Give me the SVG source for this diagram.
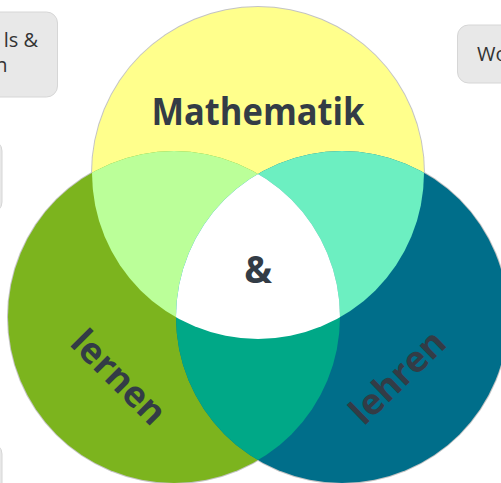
<svg xmlns="http://www.w3.org/2000/svg" width="501" height="483" viewBox="0 0 501 483">
<style>
.box{fill:#e8e8e8;stroke:#d6d6d6;stroke-width:1}
.bt{font-family:"Open Sans","Liberation Sans",sans-serif;font-size:20px;fill:#333}
.lbl{font-family:"Open Sans","Liberation Sans",sans-serif;font-weight:700;fill:#333c46}
</style>
<defs>
<clipPath id="cA"><circle cx="258" cy="173" r="166"/></clipPath>
<clipPath id="cB"><circle cx="174" cy="317" r="166"/></clipPath>
<clipPath id="cC"><circle cx="342" cy="317" r="166"/></clipPath>
</defs>
<rect width="501" height="483" fill="#ffffff"/>
<g id="box-topleft"><rect class="box" x="-20" y="12" width="77.5" height="85" rx="11"/><text class="bt" x="38" y="47" text-anchor="end">ls &amp;</text><text class="bt" x="7.5" y="72" text-anchor="end">n</text></g>
<g id="box-left"><rect class="box" x="-40" y="140" width="42" height="73" rx="11"/></g>
<g id="box-bottomleft"><rect class="box" x="-40" y="443" width="42" height="60" rx="11"/></g>
<g id="box-right"><rect class="box" x="457.5" y="25" width="80" height="58" rx="11"/><text class="bt" x="477" y="61">Wo</text></g>
<g id="venn-outline" fill="#c4c4c4">
<circle cx="258" cy="173" r="167"/><circle cx="174" cy="317" r="167"/><circle cx="342" cy="317" r="167"/>
</g>
<g id="mathematik"><circle cx="258" cy="173" r="166" fill="#ffff8c"/></g>
<g id="lernen"><circle cx="174" cy="317" r="166" fill="#7cb41e"/></g>
<g id="lehren"><circle cx="342" cy="317" r="166" fill="#006e8a"/></g>
<g id="overlap-math-lernen" clip-path="url(#cB)"><circle cx="258" cy="173" r="166" fill="#bbff99"/></g>
<g id="overlap-math-lehren" clip-path="url(#cC)"><circle cx="258" cy="173" r="166" fill="#6cefc1"/></g>
<g id="overlap-lernen-lehren" clip-path="url(#cC)"><circle cx="174" cy="317" r="166" fill="#00a887"/></g>
<g id="center" clip-path="url(#cA)"><g clip-path="url(#cB)"><circle cx="342" cy="317" r="166" fill="#ffffff"/></g></g>
<g id="labels">
<text class="lbl" x="258" y="125" font-size="37" text-anchor="middle" textLength="213" lengthAdjust="spacingAndGlyphs">Mathematik</text>
<text class="lbl" x="258" y="283" font-size="37" text-anchor="middle">&amp;</text>
<text class="lbl" font-size="36" text-anchor="middle" transform="translate(110,386) rotate(45)">lernen</text>
<text class="lbl" font-size="36" text-anchor="middle" transform="translate(406,386) rotate(-44)">lehren</text>
</g>
</svg>
